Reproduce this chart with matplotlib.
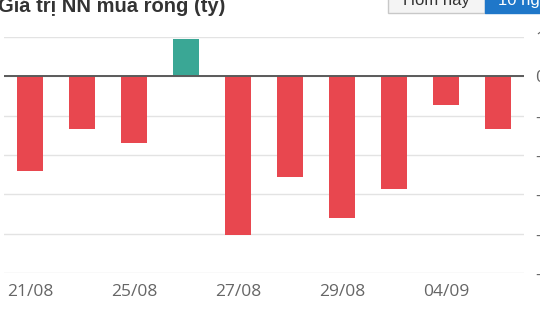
import matplotlib.pyplot as plt
from matplotlib.patches import Rectangle

# Foreign net buying (ty VND), one bar per trading day
dates = ["21/08", "22/08", "25/08", "26/08", "27/08",
         "28/08", "29/08", "03/09", "04/09", "05/09"]
values = [-2400, -1340, -1700, 940, -4030, -2560, -3600, -2860, -730, -1340]
yticks = [1000, 0, -1000, -2000, -3000, -4000, -5000]

red = "#e8474f"
green = "#3aa795"

fig = plt.figure(figsize=(5.4, 3.15), dpi=100)
ax = fig.add_axes([4 / 540, 1 - 273 / 315, 520 / 540, 236 / 315])

x = list(range(len(values)))
colors = [green if v > 0 else red for v in values]
ax.bar(x, values, width=0.5, color=colors, zorder=3)

ax.set_xlim(-0.5, len(values) - 0.5)
ax.set_ylim(-5000, 1000)
ax.set_yticks(yticks)
ax.set_yticklabels([str(t) for t in yticks])
ax.yaxis.tick_right()
ax.grid(axis="y", color="#e3e3e3", linewidth=1, zorder=0)
ax.axhline(0, color="#5a5a5a", linewidth=1.4, zorder=4)

ax.set_xticks(x[::2])
ax.set_xticklabels(dates[::2])
ax.tick_params(axis="both", length=0, labelsize=12.5, labelcolor="#666666")
ax.tick_params(axis="x", pad=8)
ax.tick_params(axis="y", pad=8)
for lab in ax.get_xticklabels() + ax.get_yticklabels():
    lab.set_fontfamily("Open Sans")
for s in ax.spines.values():
    s.set_visible(False)

# title cut at the top of the screenshot
fig.text(-0.004, 1 - 12 / 315, "Giá trị NN mua ròng (tỷ)", fontsize=14.5,
         fontweight="bold", color="#333333", family="Liberation Sans",
         va="baseline", ha="left")

# period buttons, also cut at the top
fig.add_artist(Rectangle((388 / 540, 1 - 13 / 315), 97 / 540, 20 / 315,
                         transform=fig.transFigure, facecolor="#f4f4f4",
                         edgecolor="#c8c8c8", linewidth=1))
fig.add_artist(Rectangle((485 / 540, 1 - 13 / 315), 60 / 540, 20 / 315,
                         transform=fig.transFigure, facecolor="#1f77c9",
                         edgecolor="#1f77c9", linewidth=1))
fig.text(436 / 540, 1 - 5 / 315, "Hôm nay", fontsize=12, color="#333333",
         family="Liberation Sans", ha="center", va="baseline")
fig.text(498 / 540, 1 - 5 / 315, "10 ngày", fontsize=12, color="white",
         family="Liberation Sans", ha="left", va="baseline")

fig.savefig("out.png", dpi=100)
